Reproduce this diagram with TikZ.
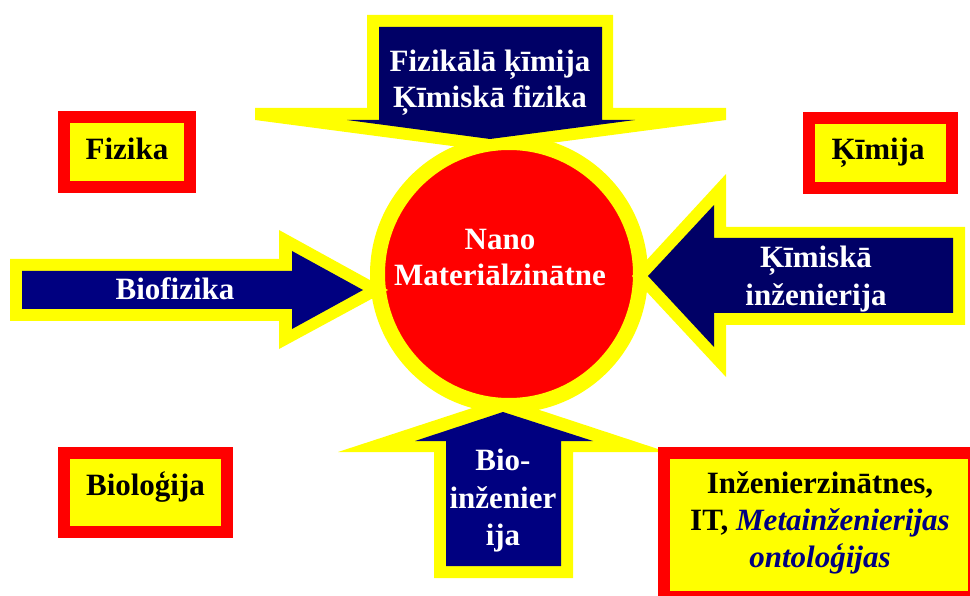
\documentclass[tikz,border=0pt]{standalone}
\usepackage{fontspec}
\setmainfont{Liberation Serif}
\definecolor{navyA}{RGB}{0,0,128}
\definecolor{navyB}{RGB}{0,0,102}
\definecolor{ylw}{RGB}{255,255,0}
\definecolor{rd}{RGB}{255,0,0}
\begin{document}
\begin{tikzpicture}[x=1pt,y=-1pt,
  lbl/.style={font=\fontsize{31}{37}\selectfont\bfseries, anchor=base, inner sep=0pt},
  wlbl/.style={lbl, text=white},
  blbl/.style={lbl, text=black},
  nlbl/.style={lbl, text=navyA, font=\fontsize{31}{37}\selectfont\bfseries\itshape},
  boxframe/.style={draw=rd, fill=ylw, line width=12pt}]
\useasboundingbox (0,0) rectangle (970,596);
\clip (0,0) rectangle (970,596);

% central circle
\node[circle, draw=ylw, fill=rd, line width=15pt, minimum size=263pt, inner sep=0pt] (core) at (509,274) {};

% top arrow
\fill[ylw] (367,15) -- (613,15) -- (613,108) -- (726,108) -- (726,120) -- (490,151) -- (255,120) -- (255,108) -- (367,108) -- cycle;
\fill[navyB] (379,27) -- (602,27) -- (602,120) -- (635,120) -- (490,139) -- (347,120) -- (379,120) -- cycle;

% left arrow
\fill[ylw] (10,259) -- (279,259) -- (279,230) -- (388,290) -- (279,349) -- (279,321) -- (10,321) -- cycle;
\fill[navyA] (22,271) -- (292,271) -- (292,251) -- (363,290) -- (292,329) -- (292,309) -- (22,309) -- cycle;

% right arrow
\fill[ylw] (965,227) -- (726,227) -- (726,174) -- (632,276) -- (726,377) -- (726,325) -- (965,325) -- cycle;
\fill[navyB] (953,238) -- (714,238) -- (714,205) -- (648,276) -- (714,347) -- (714,313) -- (953,313) -- cycle;

% bottom arrow
\fill[ylw] (434,578) -- (434,452) -- (338,452) -- (503,398) -- (667,452) -- (573,452) -- (573,578) -- cycle;
\fill[navyA] (446,566) -- (446,441) -- (415,441) -- (503,412) -- (593,441) -- (561,441) -- (561,566) -- cycle;

% boxes
\draw[boxframe] (64,117) rectangle (190,187);
\draw[boxframe] (809,118) rectangle (952,188);
\draw[boxframe] (64,453) rectangle (227,532);
\draw[boxframe] (664,453) rectangle (974,597);

% texts
\node[wlbl] (core1) at (500,250) {Nano};
\node[wlbl] (core2) at (500,286) {Materiālzinātne};

\node[wlbl] (top1) at (490,72) {Fizikālā ķīmija};
\node[wlbl] (top2) at (490,108) {Ķīmiskā fizika};

\node[wlbl] (left1) at (175,300) {Biofizika};

\node[wlbl] (right1) at (816,268) {Ķīmiskā};
\node[wlbl] (right2) at (816,306) {inženierija};

\node[wlbl] (bot1) at (503,470) {Bio-};
\node[wlbl] (bot2) at (503,508) {inženier};
\node[wlbl] (bot3) at (503,545) {ija};

\node[blbl] (fizika) at (127,160) {Fizika};
\node[blbl] (kimija) at (878,160) {Ķīmija};
\node[blbl] (biologija) at (145.5,495) {Bioloģija};

\node[blbl] (inz1) at (820,493) {Inženierzinātnes,};
\node[blbl] (inz2) at (820,530) {IT, \textcolor{navyA}{\itshape Metainženierijas}};
\node[nlbl] (inz3) at (820,567) {ontoloģijas};
\end{tikzpicture}
\end{document}
